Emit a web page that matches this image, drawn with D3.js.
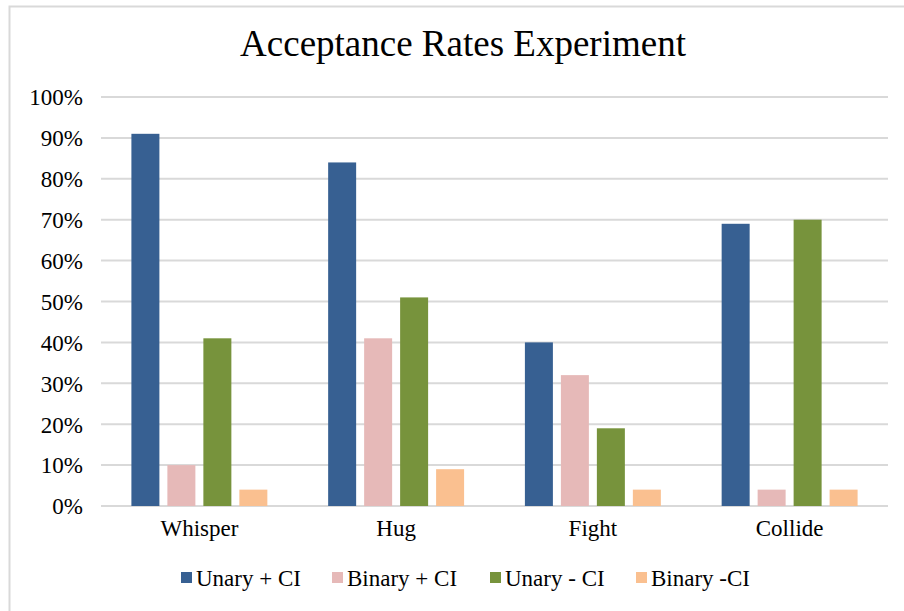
<!DOCTYPE html>
<html>
<head>
<meta charset="utf-8">
<script src="https://cdn.jsdelivr.net/npm/d3@7"></script>
<style>
  body { margin: 0; background: #fff; }
  svg { display: block; font-family: "Liberation Serif", "Times New Roman", serif; }
</style>
</head>
<body>
<svg id="chart" width="904" height="611"></svg>
<script>
// chart data
var categories = ["Whisper", "Hug", "Fight", "Collide"];
var seriesNames = ["Unary + CI", "Binary + CI", "Unary - CI", "Binary -CI"];
var unaryCI = [0.91, 0.84, 0.40, 0.69];
var binaryCI = [0.10, 0.41, 0.32, 0.04];
var unaryNoCI = [0.41, 0.51, 0.19, 0.70];
var binaryNoCI = [0.04, 0.09, 0.04, 0.04];
var yTicks = [0, 0.1, 0.2, 0.3, 0.4, 0.5, 0.6, 0.7, 0.8, 0.9, 1.0];

var colors = ["#376092", "#e6b9b8", "#77933c", "#fac090"];
var allSeries = [unaryCI, binaryCI, unaryNoCI, binaryNoCI];

var svg = d3.select("#chart");

// outer frame (only the top/left edges show in the picture)
svg.append("rect")
  .attr("x", 9.5).attr("y", 6.5)
  .attr("width", 1000).attr("height", 1000)
  .attr("fill", "none")
  .attr("stroke", "#d9d9d9")
  .attr("stroke-width", 2);

var plotLeft = 101, plotRight = 888, plotTop = 97, plotBottom = 506;

var x0 = d3.scaleBand().domain(categories).range([plotLeft, plotRight]).padding(0);
var groupPad = 30.4;
var x1 = d3.scaleBand().domain(seriesNames)
  .range([groupPad, x0.bandwidth() - groupPad])
  .paddingInner(0.222).paddingOuter(0);
var y = d3.scaleLinear().domain([0, 1]).range([plotBottom, plotTop]);

// title
svg.append("text")
  .attr("x", 463).attr("y", 56)
  .attr("text-anchor", "middle")
  .attr("font-size", 37)
  .attr("fill", "#000")
  .text("Acceptance Rates Experiment");

// gridlines
svg.append("g").selectAll("line")
  .data(yTicks)
  .enter().append("line")
  .attr("x1", plotLeft).attr("x2", plotRight)
  .attr("y1", d => y(d)).attr("y2", d => y(d))
  .attr("stroke", "#d9d9d9")
  .attr("stroke-width", 2);

// y axis labels
var yAxis = d3.axisLeft(y).tickValues(yTicks).tickFormat(d3.format(".0%")).tickSize(0).tickPadding(0);
var gy = svg.append("g").attr("transform", "translate(83,0)").call(yAxis);
gy.select(".domain").remove();
gy.selectAll("text")
  .attr("font-family", "Liberation Serif, Times New Roman, serif")
  .attr("font-size", 23)
  .attr("fill", "#000")
  .attr("dy", "0.34em");

// bars
var groups = svg.append("g").selectAll("g")
  .data(categories)
  .enter().append("g")
  .attr("transform", d => "translate(" + x0(d) + ",0)");

groups.selectAll("rect")
  .data((c, ci) => seriesNames.map((s, si) => ({ s: s, si: si, v: allSeries[si][ci] })))
  .enter().append("rect")
  .attr("x", d => x1(d.s))
  .attr("width", x1.bandwidth())
  .attr("y", d => y(d.v))
  .attr("height", d => y(0) - y(d.v))
  .attr("fill", d => colors[d.si]);

// x axis labels
var xAxis = d3.axisBottom(x0).tickSize(0).tickPadding(0);
var gx = svg.append("g").attr("transform", "translate(0,536)").call(xAxis);
gx.select(".domain").remove();
gx.selectAll("text")
  .attr("font-family", "Liberation Serif, Times New Roman, serif")
  .attr("font-size", 23)
  .attr("fill", "#000")
  .attr("dy", 0);

// legend
var legendX = [181, 332, 490, 636];
var legend = svg.append("g").selectAll("g")
  .data(seriesNames)
  .enter().append("g")
  .attr("transform", (d, i) => "translate(" + legendX[i] + ",572)");
legend.append("rect")
  .attr("width", 11).attr("height", 11)
  .attr("fill", (d, i) => colors[i]);
legend.append("text")
  .attr("x", 15).attr("y", 14)
  .attr("font-size", 23)
  .attr("fill", "#000")
  .text(d => d);
</script>
</body>
</html>
